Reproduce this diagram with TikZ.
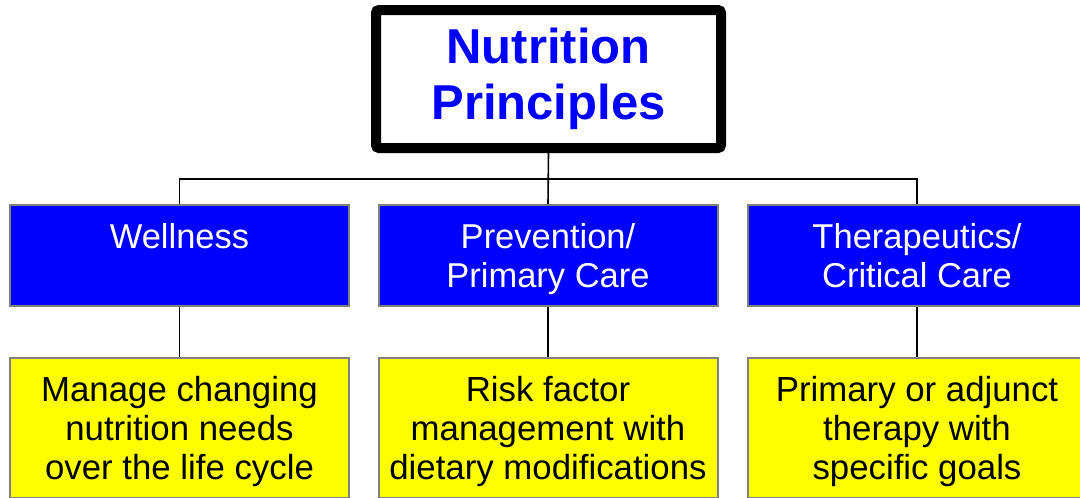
\documentclass[tikz,border=0pt]{standalone}
\usepackage{fontspec}
\setmainfont{Liberation Sans}
\definecolor{pblue}{RGB}{0,0,255}
\definecolor{pyellow}{RGB}{255,255,0}
\definecolor{pgray}{RGB}{128,128,128}
\tikzset{
  titlebox/.style={draw=black, line width=10pt, rounded corners=3pt, fill=white,
    minimum width=345pt, minimum height=138pt, align=center, text=pblue,
    font=\fontsize{49}{56}\selectfont\bfseries, inner sep=0pt},
  bluebox/.style={draw=pgray, line width=2pt, fill=pblue, text=white,
    minimum width=339pt, minimum height=101pt, align=center,
    font=\fontsize{34.5}{39}\selectfont, inner sep=0pt},
  yellowbox/.style={draw=pgray, line width=2pt, fill=pyellow, text=black,
    minimum width=339pt, minimum height=140pt, align=center,
    font=\fontsize{34.8}{39}\selectfont, inner sep=0pt},
  conn/.style={draw=black, line width=1.6pt}
}
\begin{document}
\begin{tikzpicture}[x=1pt,y=-1pt]
\useasboundingbox (0,0) rectangle (1080,498);
\clip (0,0) rectangle (1080,498);
\fill[white] (0,0) rectangle (1080,498);
\coordinate (bus) at (548,179);
\node[titlebox] (top) at (548.5,79) {Nutrition\\Principles};
\node[bluebox] (bw) at (179.5,255.5) {Wellness\\\mbox{}};
\node[bluebox] (bm) at (548,255.5) {Prevention/\\\smash{Primary Care}};
\node[bluebox] (bt) at (917,255.5) {Therapeutics/\\Critical Care};
\node[yellowbox] (yw) at (179.5,428) {Manage changing\\nutrition needs\\\smash{over the life cycle}};
\node[yellowbox] (ym) at (548,428) {Risk factor\\management with\\\smash{dietary modifications}};
\node[yellowbox] (yt) at (917,428) {Primary or adjunct\\therapy with\\\smash{specific goals}};
\draw[conn] (top.south) -- (bm.north);
\draw[conn] (bw.north) -- (bw.north |- bus) -- (bt.north |- bus) -- (bt.north);
\draw[conn] (bw.south) -- (yw.north);
\draw[conn] (bm.south) -- (ym.north);
\draw[conn] (bt.south) -- (yt.north);
\end{tikzpicture}
\end{document}
